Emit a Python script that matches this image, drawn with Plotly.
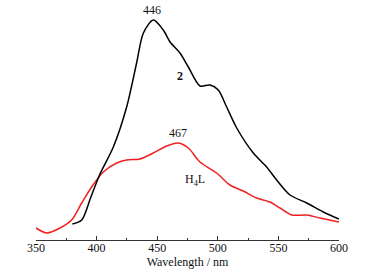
import plotly.graph_objects as go

# Complex 2 emission spectrum (black)
wl_2 = [380, 387.7, 395, 402.8, 413.8, 424.8, 433, 438.6, 446.8, 455, 460.6, 468.8,
        475.7, 485.3, 493.6, 500.4, 507.3, 515.6, 529.3, 540.3, 548.6, 559.6, 573.4, 587, 600]
int_2 = [14, 18, 40, 64, 91, 131, 175, 205, 218, 208, 196, 185,
         171, 152, 153, 148, 131, 110, 85, 71, 58, 43, 35, 26, 19]

# H4L emission spectrum (red)
wl_L = [350, 358.8, 369.8, 379.4, 387.7, 395.9, 405.5, 416.6, 424.8, 435.8, 446.8, 457.8,
        467.4, 475.7, 485.3, 499, 510, 521, 532, 543, 551.3, 561, 573.4, 584.3, 600]
int_L = [10, 5, 10, 18, 35, 51, 66, 75, 78, 79, 85, 92,
         95, 90, 76, 65, 53, 47, 40, 36, 30, 23, 23, 20, 16]

x_ticks = [350, 400, 450, 500, 550, 600]

serif = "Liberation Serif, Times New Roman, serif"

fig = go.Figure()
fig.add_trace(go.Scatter(x=wl_L, y=int_L, mode="lines",
                         line=dict(color="#f02020", width=1.5, shape="spline", smoothing=0.8)))
fig.add_trace(go.Scatter(x=wl_2, y=int_2, mode="lines",
                         line=dict(color="#000000", width=1.5, shape="spline", smoothing=0.8)))

fig.add_annotation(x=446, y=218, text="446", showarrow=False, yshift=10,
                   font=dict(family=serif, size=12, color="#111"))
fig.add_annotation(x=467, y=95, text="467", showarrow=False, yshift=10,
                   font=dict(family=serif, size=12, color="#111"))
fig.add_annotation(x=469, y=162, text="<b>2</b>", showarrow=False,
                   font=dict(family=serif, size=12, color="#111"))
fig.add_annotation(x=481, y=58, text="H<sub>4</sub>L", showarrow=False,
                   font=dict(family=serif, size=12, color="#111"))

fig.update_layout(
    width=373, height=273,
    margin=dict(l=36, r=34, t=10, b=33),
    paper_bgcolor="white", plot_bgcolor="white",
    showlegend=False,
    font=dict(family=serif, size=12, color="#111"),
    xaxis=dict(range=[350, 600], tickvals=x_ticks, ticks="inside", ticklen=4,
               tickcolor="#333", showline=True, linecolor="#333", linewidth=1,
               showgrid=False, zeroline=False, automargin=False,
               ticklabelstandoff=-3,
               minor=dict(dtick=25, ticks="inside", ticklen=2, tickcolor="#333", showgrid=False),
               title=dict(text="Wavelength / nm", standoff=0, font=dict(family=serif, size=12)),
               tickfont=dict(family=serif, size=12)),
    yaxis=dict(range=[-2, 228], visible=False, showgrid=False, zeroline=False, automargin=False),
)

fig.write_html("out.html", config={"displayModeBar": False},
               post_script="document.body.style.margin='0';document.body.style.padding='0';")
